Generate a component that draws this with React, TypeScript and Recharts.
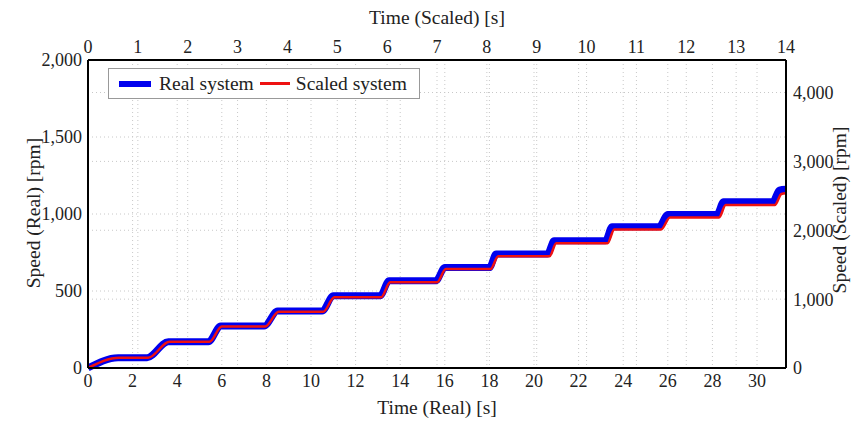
import { LineChart, Line, XAxis, YAxis, CartesianGrid } from 'recharts'

// ── data ────────────────────────────────────────────────────────
// real system: time [s] / speed [rpm]
const realTime = [
  0, 1.35, 2.65, 3.6, 5.4, 5.95, 7.9, 8.5, 10.5, 11.0, 13.1, 13.5, 15.6, 16.0,
  18.0, 18.3, 20.6, 20.9, 23.2, 23.5, 25.6, 26.0, 28.2, 28.5, 30.7, 31.0, 31.3,
]
const realSpeed = [
  0, 67, 67, 171, 171, 273, 273, 370, 370, 469, 469, 567, 567, 652,
  652, 740, 740, 826, 826, 917, 917, 997, 997, 1079, 1079, 1155, 1160,
]

// scaled system: time (scaled) [s] / speed (scaled) [rpm]
const scaledTime = [
  0, 0.626, 1.208, 1.632, 2.437, 2.683, 3.555, 3.824, 4.718, 4.942, 5.881, 6.06, 7.0, 7.178,
  8.072, 8.229, 9.258, 9.392, 10.42, 10.555, 11.494, 11.673, 12.657, 12.791, 13.775, 13.909, 14.0,
]
const scaledSpeed = [
  0, 150, 150, 380, 380, 604, 604, 816, 816, 1029, 1029, 1245, 1245, 1436,
  1436, 1623, 1623, 1811, 1811, 2012, 2012, 2185, 2185, 2366, 2366, 2527, 2538,
]

const realTimeTicks = [0, 2, 4, 6, 8, 10, 12, 14, 16, 18, 20, 22, 24, 26, 28, 30]
const scaledTimeTicks = [0, 1, 2, 3, 4, 5, 6, 7, 8, 9, 10, 11, 12, 13, 14]
const realSpeedTicks = [0, 500, 1000, 1500, 2000]
const scaledSpeedTicks = [0, 1000, 2000, 3000, 4000]

const realData = realTime.map((t, i) => ({ t, v: realSpeed[i] }))
const scaledData = scaledTime.map((t, i) => ({ t, v: scaledSpeed[i] }))

// ── styles ──────────────────────────────────────────────────────
const FONT = '"Liberation Serif", "DejaVu Serif", serif'
const TICK = { fontSize: 18, fill: '#222', fontFamily: FONT }
const AXIS_LINE = { stroke: '#000', strokeWidth: 2 }
const GRID = '#c8c8c8'
const fmt = (v: number) => v.toLocaleString('en-US')

const title: React.CSSProperties = {
  position: 'absolute', fontFamily: FONT, fontSize: 19.5, color: '#222',
  whiteSpace: 'nowrap', transform: 'translate(-50%, -50%)',
}

export default function App() {
  return (
    <div style={{ position: 'absolute', left: 0, top: 0, width: 864, height: 421, background: '#fff' }}>
      <LineChart width={864} height={421} margin={{ top: 30, right: 18, bottom: 23, left: 28 }}>
        <CartesianGrid xAxisId="bottom" yAxisId="left" stroke={GRID} strokeDasharray="1 3" />
        <CartesianGrid xAxisId="top" yAxisId="right" stroke={GRID} strokeDasharray="1 3" />
        <XAxis
          xAxisId="bottom" dataKey="t" type="number" orientation="bottom" height={30}
          domain={[0, 31.3]} ticks={realTimeTicks} allowDataOverflow
          tick={TICK} tickLine={false} tickSize={0} tickMargin={6} axisLine={AXIS_LINE}
        />
        <XAxis
          xAxisId="top" dataKey="t" type="number" orientation="top" height={30}
          domain={[0, 14]} ticks={scaledTimeTicks} allowDataOverflow
          tick={TICK} tickLine={false} tickSize={0} tickMargin={7} axisLine={AXIS_LINE}
        />
        <YAxis
          yAxisId="left" orientation="left" width={60}
          domain={[0, 2000]} ticks={realSpeedTicks} tickFormatter={fmt}
          tick={TICK} tickLine={false} tickSize={0} tickMargin={6} axisLine={AXIS_LINE}
        />
        <YAxis
          yAxisId="right" orientation="right" width={60}
          domain={[0, 4472]} ticks={scaledSpeedTicks} tickFormatter={fmt}
          tick={TICK} tickLine={false} tickSize={0} tickMargin={7} axisLine={AXIS_LINE}
        />

        {/* Real system: thick blue */}
        <Line
          xAxisId="bottom" yAxisId="left" data={realData} dataKey="v"
          type="monotone" stroke="#0000ee" strokeWidth={7} dot={false}
          activeDot={false} isAnimationActive={false}
        />
        {/* Scaled system: thin red */}
        <Line
          xAxisId="top" yAxisId="right" data={scaledData} dataKey="v"
          type="monotone" stroke="#ee1111" strokeWidth={2.5} dot={false}
          activeDot={false} isAnimationActive={false}
        />
      </LineChart>

      {/* axis titles */}
      <div style={{ ...title, left: 437, top: 18 }}>Time (Scaled) [s]</div>
      <div style={{ ...title, left: 437, top: 408 }}>Time (Real) [s]</div>
      <div style={{ ...title, left: 34, top: 213, transform: 'translate(-50%, -50%) rotate(-90deg)' }}>
        Speed (Real) [rpm]
      </div>
      <div style={{ ...title, left: 840, top: 210, transform: 'translate(-50%, -50%) rotate(-90deg)' }}>
        Speed (Scaled) [rpm]
      </div>

      {/* legend */}
      <div style={{
        position: 'absolute', left: 108, top: 68, width: 312, height: 31,
        border: '1px solid #999', background: '#fff', boxSizing: 'border-box',
        display: 'flex', alignItems: 'center', fontFamily: FONT, fontSize: 19.5, color: '#222',
      }}>
        <span style={{ width: 32, height: 6, background: '#0000ee', marginLeft: 10 }} />
        <span style={{ marginLeft: 8 }}>Real system</span>
        <span style={{ width: 30, height: 3, background: '#ee1111', marginLeft: 6 }} />
        <span style={{ marginLeft: 6 }}>Scaled system</span>
      </div>
    </div>
  )
}
